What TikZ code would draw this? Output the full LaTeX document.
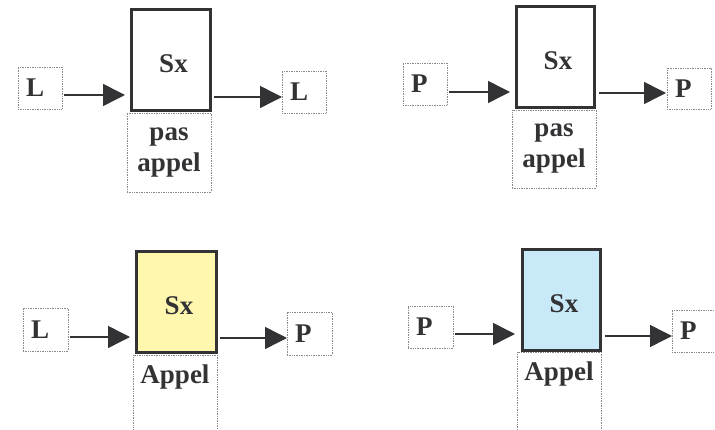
\documentclass[tikz,border=0pt]{standalone}
\usepackage{fontspec}
\setmainfont{Liberation Serif}
\usetikzlibrary{arrows.meta,calc}
\definecolor{ink}{HTML}{333336}
\definecolor{dotc}{HTML}{8A8A8A}
\definecolor{sxyellow}{HTML}{FFF7AE}
\definecolor{sxblue}{HTML}{C8E9F8}
\begin{document}
\begin{tikzpicture}[x=1pt,y=-1pt,
  every node/.style={font=\fontsize{27}{31}\selectfont\bfseries, text=ink, outer sep=0pt},
  io/.style={draw=dotc, densely dotted, line width=0.7pt, minimum height=42pt, text width=28pt, inner xsep=8pt, inner ysep=0pt, align=left},
  note/.style={draw=dotc, densely dotted, line width=0.7pt, minimum width=84pt, align=center, inner sep=0pt},
  appelbox/.style={note, minimum height=90pt, text height=20pt, text depth=52pt, inner ysep=9pt},
  sxbox/.style={draw=ink, line width=3pt, minimum width=79pt, minimum height=101pt, text height=26pt, text depth=0pt, inner sep=0pt},
  arr/.style={draw=ink, line width=1.5pt, -{Triangle[length=22pt,width=22pt]}}]
\useasboundingbox (0,0) rectangle (715,430);
\clip (0,0) rectangle (715,430);

% panel 1
\node[note, minimum height=79pt] (pa1) at (169,152.5) {pas\\appel};
\node[sxbox] (sx1) at (171,60) {\kern5pt Sx};
\node[io] (in1) at (40,88) {L};
\node[io] (out1) at (304,92) {L};
\draw[arr] ($(in1.east)+(2,7)$) -- ($(sx1.west)+(-6.5,35)$);
\draw[arr] ($(sx1.east)+(3.5,37)$) -- ($(out1.west)+(0,5)$);

% panel 2
\node[note, minimum height=78pt] (pa2) at (554,149) {pas\\appel};
\node[sxbox, minimum width=78pt] (sx2) at (555.5,57) {\kern5pt Sx};
\node[io] (in2) at (425,84) {P};
\node[io, minimum height=41pt] (out2) at (689,88.5) {P};
\draw[arr] ($(in2.east)+(2,8)$) -- ($(sx2.west)+(-6.5,35)$);
\draw[arr] ($(sx2.east)+(4.5,36)$) -- ($(out2.west)+(-1,4.5)$);

% panel 3
\node[appelbox] (ap3) at (175,400) {Appel};
\node[sxbox, fill=sxyellow, minimum width=80pt] (sx3) at (176.5,302) {\kern5pt Sx};
\node[io, text width=29pt, minimum height=43pt] (in3) at (45.5,329.5) {L};
\node[io, text width=29pt, minimum height=43pt] (out3) at (309.5,333.5) {P};
\draw[arr] ($(in3.east)+(2,7.5)$) -- ($(sx3.west)+(-6.5,35)$);
\draw[arr] ($(sx3.east)+(3.5,36)$) -- ($(out3.west)+(0,4.5)$);

% panel 4
\node[appelbox] (ap4) at (559,397) {Appel};
\node[sxbox, fill=sxblue, minimum width=78pt] (sx4) at (561.5,300) {\kern5pt Sx};
\node[io, text width=29pt] (in4) at (430.5,327) {P};
\node[io] (out4) at (694,331) {P};
\draw[arr] ($(in4.east)+(2,7)$) -- ($(sx4.west)+(-7.5,34)$);
\draw[arr] ($(sx4.east)+(4.5,36)$) -- ($(out4.west)+(0,5)$);
\end{tikzpicture}
\end{document}
